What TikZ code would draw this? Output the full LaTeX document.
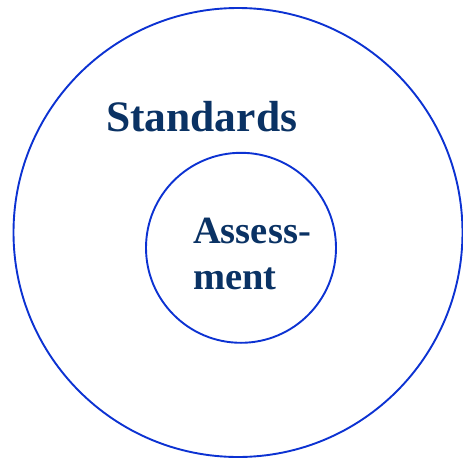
\documentclass[tikz,border=0pt]{standalone}
\usepackage{fontspec}
\setmainfont{Liberation Serif}
\usepackage{xcolor}
\definecolor{ringblue}{RGB}{12,50,210}
\definecolor{textnavy}{RGB}{10,50,100}

\begin{document}
\begin{tikzpicture}[x=1pt,y=-1pt,line join=round]
  \tikzset{
    ring/.style={circle,draw=ringblue,line width=1.9pt,inner sep=0pt},
    lbl/.style={inner sep=0pt,text=textnavy,font=\bfseries,align=left}
  }
  \useasboundingbox (0,0) rectangle (463,458);
  % the two rings
  \node[ring,minimum size=449pt] (std) at (238.0,232.5) {};
  \node[ring,minimum size=190pt] (asm) at (241.0,247.8) {};
  % labels
  \node[lbl,anchor=base west,font=\bfseries\fontsize{43.5}{50}\selectfont] (stdlbl) at (106.0,131.5) {Standards};
  \node[lbl,anchor=base west,font=\bfseries\fontsize{38.5}{46}\selectfont] (asmtop) at (193.0,243.0) {Assess-};
  \node[lbl,anchor=base west,font=\bfseries\fontsize{38.5}{46}\selectfont] (asmbot) at (193.0,289.0) {ment};
\end{tikzpicture}
\end{document}
